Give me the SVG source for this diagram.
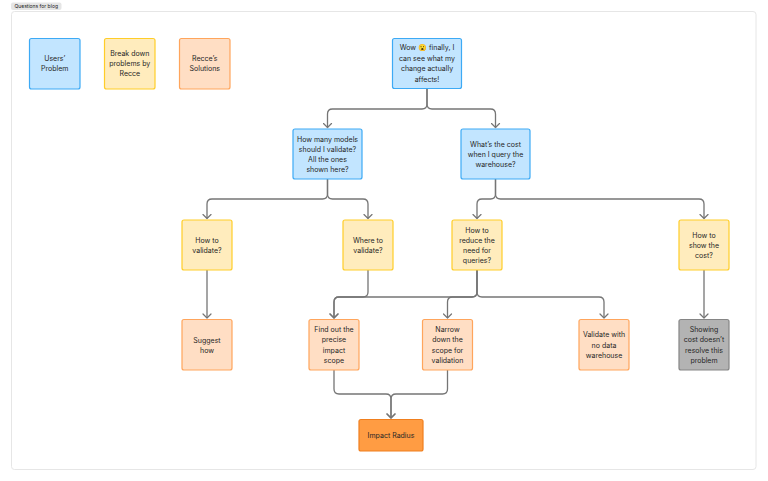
<svg xmlns="http://www.w3.org/2000/svg" width="768" height="481" viewBox="0 0 768 481">
<defs>
<marker id="arr" markerWidth="10" markerHeight="10" refX="5" refY="5" orient="auto" markerUnits="userSpaceOnUse">
<path d="M1,1 L5,5 L1,9" fill="none" stroke="#757575" stroke-width="1.2" stroke-linecap="round" stroke-linejoin="round"/>
</marker>
<style>
.t{font-family:Inter,"Liberation Sans","Noto Sans",sans-serif;font-size:7px;fill:#262626;text-anchor:middle;dominant-baseline:central}
.b{fill:#c2e5ff;stroke:#3daaf5;stroke-width:1.2}
.y{fill:#ffecbd;stroke:#ffcd29;stroke-width:1.2}
.o{fill:#ffdec4;stroke:#ffa55c;stroke-width:1.2}
.r{fill:#ff9c43;stroke:#f07f1e;stroke-width:1.2}
.g{fill:#b3b3b3;stroke:#858585;stroke-width:1.2}
.c path{fill:none;stroke:#757575;stroke-width:1.3;marker-end:url(#arr)}
</style>
</defs>
<rect width="768" height="481" fill="#ffffff"/>
<g id="frame">
<rect x="11.5" y="11.5" width="744.5" height="458" rx="3" fill="#ffffff" stroke="#e6e6e6" stroke-width="1"/>
<rect x="11" y="2.5" width="50.5" height="7.5" rx="2" fill="#e5e5e5"/>
<text x="36.2" y="6.4" class="t" style="font-size:5px;fill:#222">Questions for blog</text>
</g>
<g id="legend-users">
<rect class="b" x="29.5" y="38.5" width="50.5" height="50.5" rx="2"/>
<text class="t" x="54.8" y="58.7">Users’</text>
<text class="t" x="54.8" y="68.7">Problem</text>
</g>
<g id="legend-breakdown">
<rect class="y" x="104.5" y="38.5" width="50.5" height="50.5" rx="2"/>
<text class="t" x="129.8" y="53.7">Break down</text>
<text class="t" x="129.8" y="63.7">problems by</text>
<text class="t" x="129.8" y="73.7">Recce</text>
</g>
<g id="legend-solutions">
<rect class="o" x="179.5" y="38.5" width="50.5" height="50.5" rx="2"/>
<text class="t" x="204.8" y="58.7">Recce’s</text>
<text class="t" x="204.8" y="68.7">Solutions</text>
</g>
<g class="c" id="connectors">
<path d="M427,88.5 V104 Q427,109 422,109 H332.5 Q327.5,109 327.5,114 V127.5"/>
<path d="M427,88.5 V104 Q427,109 432,109 H490.5 Q495.5,109 495.5,114 V127.5"/>
<path d="M327.5,179 V194 Q327.5,199 322.5,199 H212 Q207,199 207,204 V218.5"/>
<path d="M327.5,179 V194 Q327.5,199 332.5,199 H363 Q368,199 368,204 V218.5"/>
<path d="M495.5,179 V194 Q495.5,199 490.5,199 H482 Q477,199 477,204 V218.5"/>
<path d="M495.5,179 V194 Q495.5,199 500.5,199 H699 Q704,199 704,204 V218.5"/>
<path d="M207,270 V318"/>
<path d="M704,270 V318"/>
<path d="M368,270 V292 Q368,297 363,297 H339 Q334,297 334,302 V318"/>
<path d="M477,270 V292 Q477,297 472,297 H339 Q334,297 334,302 V318"/>
<path d="M477,270 V292 Q477,297 472,297 H452.5 Q447.5,297 447.5,302 V318"/>
<path d="M477,270 V292 Q477,297 482,297 H599 Q604,297 604,302 V318"/>
<path d="M334,370 V389 Q334,394 339,394 H386 Q391,394 391,399 V418"/>
<path d="M447.5,370 V389 Q447.5,394 442.5,394 H396 Q391,394 391,399 V418"/>
</g>
<g id="n-wow">
<rect class="b" x="392.5" y="38.5" width="69" height="50" rx="2"/>
<text class="t" x="427" y="47.7">Wow 😮 finally, I</text>
<text class="t" x="427" y="58.2">can see what my</text>
<text class="t" x="427" y="68.6">change actually</text>
<text class="t" x="427" y="79">affects!</text>
</g>
<g id="n-howmany">
<rect class="b" x="293" y="129" width="69" height="50" rx="2"/>
<text class="t" x="327.5" y="139.3">How many models</text>
<text class="t" x="327.5" y="149.5">should I validate?</text>
<text class="t" x="327.5" y="159.7">All the ones</text>
<text class="t" x="327.5" y="169.8">shown here?</text>
</g>
<g id="n-cost">
<rect class="b" x="461" y="129" width="69" height="50" rx="2"/>
<text class="t" x="495.5" y="144.3">What’s the cost</text>
<text class="t" x="495.5" y="154.5">when I query the</text>
<text class="t" x="495.5" y="164.7">warehouse?</text>
</g>
<g id="n-howvalidate">
<rect class="y" x="182" y="220" width="50" height="50" rx="2"/>
<text class="t" x="207" y="240">How to</text>
<text class="t" x="207" y="250">validate?</text>
</g>
<g id="n-wherevalidate">
<rect class="y" x="343" y="220" width="50" height="50" rx="2"/>
<text class="t" x="368" y="240">Where to</text>
<text class="t" x="368" y="250">validate?</text>
</g>
<g id="n-reduce">
<rect class="y" x="452" y="220" width="50" height="50" rx="2"/>
<text class="t" x="477" y="230">How to</text>
<text class="t" x="477" y="240.2">reduce the</text>
<text class="t" x="477" y="250.4">need for</text>
<text class="t" x="477" y="260.6">queries?</text>
</g>
<g id="n-showcost">
<rect class="y" x="679" y="220" width="50" height="50" rx="2"/>
<text class="t" x="704" y="235">How to</text>
<text class="t" x="704" y="245">show the</text>
<text class="t" x="704" y="255">cost?</text>
</g>
<g id="n-suggest">
<rect class="o" x="182" y="319.5" width="50" height="50.5" rx="2"/>
<text class="t" x="207" y="340">Suggest</text>
<text class="t" x="207" y="350">how</text>
</g>
<g id="n-findout">
<rect class="o" x="309" y="319.5" width="50" height="50.5" rx="2"/>
<text class="t" x="334" y="329.7">Find out the</text>
<text class="t" x="334" y="339.9">precise</text>
<text class="t" x="334" y="350.1">impact</text>
<text class="t" x="334" y="360.3">scope</text>
</g>
<g id="n-narrow">
<rect class="o" x="422.5" y="319.5" width="50" height="50.5" rx="2"/>
<text class="t" x="447.5" y="329.7">Narrow</text>
<text class="t" x="447.5" y="339.9">down the</text>
<text class="t" x="447.5" y="350.1">scope for</text>
<text class="t" x="447.5" y="360.3">validation</text>
</g>
<g id="n-nowarehouse">
<rect class="o" x="579" y="319.5" width="50" height="50.5" rx="2"/>
<text class="t" x="604" y="334.8">Validate with</text>
<text class="t" x="604" y="345">no data</text>
<text class="t" x="604" y="355.2">warehouse</text>
</g>
<g id="n-showingcost">
<rect class="g" x="679" y="319.5" width="50" height="50.5" rx="2"/>
<text class="t" x="704" y="329.7">Showing</text>
<text class="t" x="704" y="339.9">cost doesn’t</text>
<text class="t" x="704" y="350.1">resolve this</text>
<text class="t" x="704" y="360.3">problem</text>
</g>
<g id="n-impact">
<rect class="r" x="359" y="419.5" width="64" height="31.5" rx="2"/>
<text class="t" x="391" y="435.3">Impact Radius</text>
</g>
</svg>
